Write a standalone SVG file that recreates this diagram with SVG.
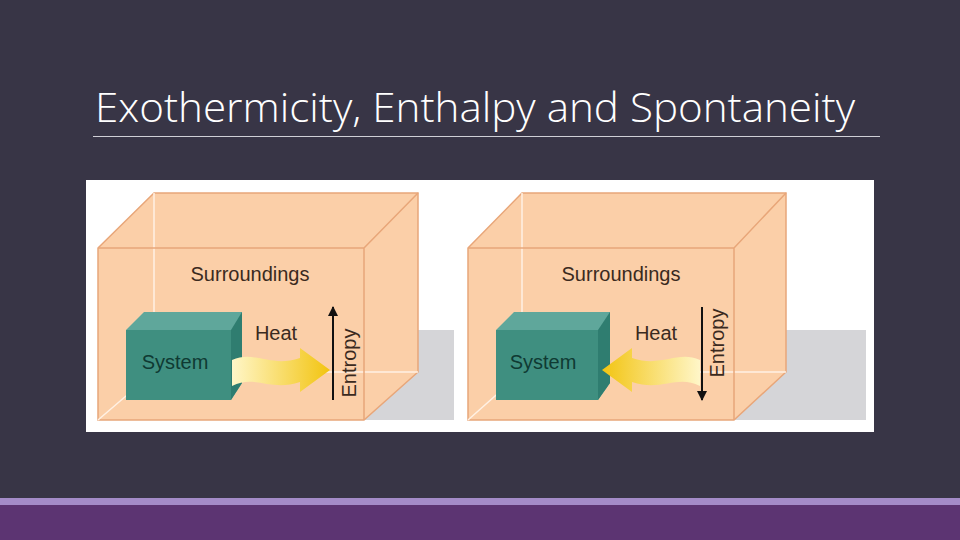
<svg xmlns="http://www.w3.org/2000/svg" width="960" height="540" viewBox="0 0 960 540">
<defs>
<style>
.t{font-family:"Liberation Sans",Arial,sans-serif;fill:#3a2a20;font-size:20px}
.face{fill:#fbcfa8;stroke:#e8a679;stroke-width:1.5}
.edge{stroke:#fff1e4;stroke-width:1.5;fill:none}
</style>
<linearGradient id="hg" x1="0" x2="1"><stop offset="0" stop-color="#fff6c8"/><stop offset="1" stop-color="#f2c410"/></linearGradient>
<linearGradient id="hg2" x1="1" x2="0"><stop offset="0" stop-color="#fff6c8"/><stop offset="1" stop-color="#f2c410"/></linearGradient>
<marker id="ah" viewBox="0 0 10 10" refX="9" refY="5" markerWidth="5" markerHeight="5" orient="auto"><path d="M0,0L10,5L0,10z" fill="#111"/></marker>
</defs>
<rect width="960" height="540" fill="#383546"/>
<rect y="498" width="960" height="7" fill="#a48bc8"/>
<rect y="505" width="960" height="35" fill="#5c3472"/>
<text x="95" y="122" font-family="Open Sans,Liberation Sans,sans-serif" font-weight="300" font-size="40" fill="#ffffff" textLength="760" lengthAdjust="spacingAndGlyphs">Exothermicity, Enthalpy and Spontaneity</text>
<line x1="93" y1="136.500" x2="880" y2="136.500" stroke="#cfcfd6" stroke-width="1"/>
<rect x="86" y="180" width="788" height="252" fill="#ffffff"/>
<g id="left">
<polygon points="364,330 454,330 454,420 364,420" fill="#d5d5d8"/>
<polygon points="98,248 154,193 418,193 418,372 364,420 98,420" class="face"/>
<path d="M154,193 V372 H418 M154,372 L98,420" class="edge"/>
<path d="M98,248 H364 V420 M364,248 L418,193" stroke="#e8a679" stroke-width="1.5" fill="none"/>
<g id="sys1">
<polygon points="126,330 144,312 242,312 242,383 231,400 231,330" fill="#5fa79b"/>
<polygon points="231,330 242,312 242,383 231,400" fill="#2f7d70"/>
<rect x="126" y="330" width="105" height="70" fill="#3f8f80"/>
<text x="175" y="369" text-anchor="middle" class="t" style="fill:#0f3a33">System</text>
</g>
<text x="276" y="340" text-anchor="middle" class="t">Heat</text>
<path d="M232,360 C255,350 270,368 300,358 L300,348 L330,370 L300,392 L300,382 C270,392 255,374 232,386 Z" fill="url(#hg)"/>
<line x1="333" y1="400" x2="333" y2="307" stroke="#111" stroke-width="2" marker-end="url(#ah)"/>
<text transform="translate(356,363) rotate(-90)" text-anchor="middle" class="t">Entropy</text>
<text x="250" y="281" text-anchor="middle" class="t">Surroundings</text>
</g>
<g id="right">
<polygon points="734,330 866,330 866,420 734,420" fill="#d5d5d8"/>
<polygon points="468,248 522,193 786,193 786,372 734,420 468,420" class="face"/>
<path d="M522,193 V372 H786 M522,372 L468,420" class="edge"/>
<path d="M468,248 H734 V420 M734,248 L786,193" stroke="#e8a679" stroke-width="1.5" fill="none"/>
<g id="sys2">
<polygon points="496,330 514,312 610,312 610,383 598,400 598,330" fill="#5fa79b"/>
<polygon points="598,330 610,312 610,383 598,400" fill="#2f7d70"/>
<rect x="496" y="330" width="102" height="70" fill="#3f8f80"/>
<text x="543" y="369" text-anchor="middle" class="t" style="fill:#0f3a33">System</text>
</g>
<text x="656" y="340" text-anchor="middle" class="t">Heat</text>
<path d="M700,360 C677,350 662,368 632,358 L632,348 L602,370 L632,392 L632,382 C662,392 677,374 700,386 Z" fill="url(#hg2)"/>
<line x1="702" y1="307" x2="702" y2="400" stroke="#111" stroke-width="2" marker-end="url(#ah)"/>
<text transform="translate(724,343) rotate(-90)" text-anchor="middle" class="t">Entropy</text>
<text x="621" y="281" text-anchor="middle" class="t">Surroundings</text>
</g>
</svg>
